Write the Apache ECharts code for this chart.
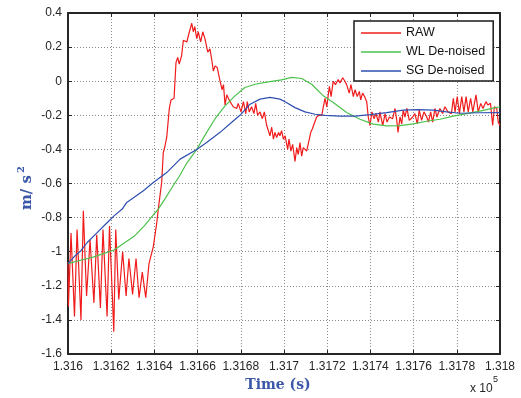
<!DOCTYPE html>
<html>
<head>
<meta charset="utf-8">
<style>
  html, body { margin: 0; padding: 0; background: #fff; }
  #chart { width: 521px; height: 398px; }
</style>
<script src="https://cdn.jsdelivr.net/npm/echarts@6/dist/echarts.min.js"></script>
</head>
<body>
<div id="chart"></div>
<script>
// Time axis: seconds, labelled in units of 1e5 s
const T0 = 131600;
const T_END = 131800;
const T_STEP = 20;
const Y_MIN = -1.6;
const Y_MAX = 0.4;
const Y_STEP = 0.2;

const seriesNames = ['RAW', 'WL De-noised', 'SG De-noised'];

// [seconds after T0, acceleration m/s^2]
const rawSignal = [
  [0,-1.06],[0.2,-1.32],[1.4,-0.89],[3.0,-1.38],[4.2,-0.87],[6.0,-1.40],[7.1,-0.76],[8.6,-1.26],
  [10.2,-0.93],[12.0,-1.30],[13.3,-0.90],[15.0,-1.33],[16.2,-0.87],[18.1,-1.38],[19.2,-0.85],
  [21.2,-1.47],[22.1,-0.87],[23.5,-1.28],[25.3,-1.00],[26.9,-1.26],[28.2,-1.04],[29.9,-1.25],
  [31.5,-1.04],[32.9,-1.27],[34.4,-1.12],[36.0,-1.27],[37.5,-1.07],[39.5,-0.97],[41.1,-0.83],
  [41.8,-0.75],[42.6,-0.67],[43.4,-0.59],[44.1,-0.42],[44.9,-0.38],[45.7,-0.33],[46.9,-0.16],
  [47.7,-0.11],[49.1,-0.10],[50.0,0.11],[50.8,0.14],[51.5,0.10],[52.6,0.15],[53.4,0.24],
  [54.2,0.25],[55.0,0.23],[56.2,0.29],[57.3,0.34],[58.0,0.29],[58.7,0.32],[59.6,0.25],
  [60.3,0.29],[61.4,0.23],[62.4,0.29],[63.4,0.25],[64.7,0.17],[65.7,0.19],[66.5,0.13],
  [67.3,0.06],[68.1,0.09],[69.1,0.08],[70.4,0.00],[71.3,-0.05],[72.0,-0.02],[72.7,-0.14],
  [73.5,-0.08],[75.0,-0.12],[76.5,-0.15],[78.1,-0.16],[78.8,-0.13],[80.1,-0.18],[81.2,-0.12],
  [82.3,-0.19],[83.0,-0.12],[83.9,-0.18],[85.0,-0.15],[86.1,-0.19],[86.9,-0.13],[87.8,-0.20],
  [88.9,-0.18],[90.0,-0.22],[90.9,-0.18],[92.0,-0.26],[92.8,-0.25],[93.5,-0.32],[94.3,-0.27],
  [95.1,-0.34],[95.8,-0.30],[96.6,-0.33],[97.5,-0.30],[98.1,-0.32],[98.9,-0.29],[99.7,-0.34],
  [100.5,-0.32],[101.7,-0.40],[102.3,-0.34],[103.2,-0.41],[104.0,-0.37],[105.1,-0.47],
  [105.9,-0.39],[106.6,-0.43],[107.4,-0.36],[108.2,-0.44],[108.9,-0.39],[109.7,-0.40],
  [110.5,-0.41],[111.3,-0.40],[112.4,-0.30],[113.1,-0.28],[114.0,-0.29],[115.1,-0.21],
  [116.2,-0.20],[117.5,-0.20],[118.2,-0.15],[119.0,-0.10],[119.8,-0.15],[121.0,-0.03],
  [121.8,-0.09],[122.8,0.00],[123.8,-0.02],[125.1,0.01],[125.9,-0.01],[127.2,0.02],
  [128.2,0.00],[129.0,-0.02],[130.2,-0.07],[131.0,-0.02],[132.1,-0.09],[132.9,-0.05],
  [133.9,-0.09],[134.9,-0.06],[135.5,-0.11],[136.4,-0.07],[137.3,-0.09],[138.3,-0.12],
  [139.0,-0.21],[139.8,-0.26],[140.7,-0.18],[141.7,-0.22],[142.6,-0.19],[143.7,-0.24],
  [144.4,-0.18],[145.7,-0.26],[146.8,-0.19],[147.7,-0.24],[148.8,-0.21],[150.3,-0.22],
  [151.4,-0.16],[152.2,-0.23],[152.8,-0.30],[153.7,-0.21],[154.5,-0.25],[155.2,-0.17],
  [156.0,-0.21],[156.9,-0.16],[158.0,-0.23],[159.6,-0.21],[160.6,-0.19],[161.7,-0.25],
  [162.6,-0.17],[163.7,-0.23],[164.8,-0.18],[166.1,-0.21],[166.9,-0.24],[167.9,-0.18],
  [168.8,-0.24],[169.9,-0.16],[170.8,-0.21],[172.2,-0.16],[173.4,-0.19],[174.5,-0.15],
  [175.9,-0.18],[177.5,-0.19],[178.4,-0.10],[179.2,-0.18],[180.2,-0.09],[181.2,-0.19],
  [182.3,-0.09],[183.3,-0.18],[184.3,-0.09],[185.3,-0.18],[186.4,-0.10],[187.4,-0.18],
  [188.9,-0.08],[189.9,-0.18],[191.1,-0.13],[192.1,-0.16],[193.5,-0.12],[194.4,-0.14],
  [195.6,-0.13],[196.6,-0.26],[197.4,-0.15],[198.5,-0.16],[199.2,-0.24],[200.0,-0.26]
];

const wlDenoised = [
  [0,-1.07],[5.9,-1.05],[12.0,-1.03],[16.7,-1.01],[21.3,-0.99],[25.9,-0.95],[30.6,-0.91],
  [35.2,-0.85],[39.8,-0.78],[41.8,-0.75],[44.9,-0.69],[48.8,-0.61],[51.9,-0.55],[55.0,-0.48],
  [59.6,-0.40],[64.2,-0.30],[68.1,-0.22],[72.7,-0.145],[77.3,-0.086],[81.9,-0.037],
  [86.6,-0.018],[92.7,-0.004],[98.9,0.008],[103.6,0.022],[108.2,0.016],[112.8,-0.018],
  [118.2,-0.086],[122.8,-0.125],[129.0,-0.184],[135.2,-0.223],[141.3,-0.252],[147.5,-0.262],
  [153.7,-0.26],[159.9,-0.25],[166.1,-0.235],[172.2,-0.223],[178.4,-0.205],[184.6,-0.19],
  [190.7,-0.176],[196.9,-0.158],[200.0,-0.15]
];

const sgDenoised = [
  [0,-1.07],[2.8,-1.03],[5.9,-0.995],[8.9,-0.946],[13.6,-0.887],[18.2,-0.829],[21.3,-0.79],
  [25.1,-0.75],[27.2,-0.711],[34.9,-0.643],[39.5,-0.594],[45.7,-0.536],[51.9,-0.457],
  [59.6,-0.40],[64.2,-0.36],[70.4,-0.30],[75.0,-0.25],[79.6,-0.20],[84.3,-0.135],
  [88.9,-0.105],[93.5,-0.095],[98.1,-0.105],[100.5,-0.121],[105.1,-0.155],[109.7,-0.18],
  [114.4,-0.194],[119.0,-0.20],[125.9,-0.205],[132.9,-0.205],[139.8,-0.196],[147.5,-0.184],
  [155.2,-0.17],[162.0,-0.167],[169.1,-0.17],[175.3,-0.18],[181.5,-0.188],[190.7,-0.185],
  [200.0,-0.184]
];

const lineColors = ['#f01c1c', '#4cc24c', '#2f4fb0'];

const toSeconds = pts => pts.map(p => [T0 + p[0], p[1]]);

const axisColor = '#262626';
const labelFont = { fontFamily: 'Liberation Sans, Arial, sans-serif', fontSize: 12, color: axisColor };
const gridLine = { show: true, lineStyle: { color: '#8a8a8a', width: 1, type: [1, 2] } };

const fmtX = v => (v / 1e5).toFixed(4).replace(/0+$/, '').replace(/\.$/, '');
const fmtY = v => String(+v.toFixed(1));

const chart = echarts.init(document.getElementById('chart'), null, { renderer: 'canvas' });

const xBase = { type: 'value', min: T0, max: T_END, interval: T_STEP };
const yBase = { type: 'value', min: Y_MIN, max: Y_MAX, interval: Y_STEP };

chart.setOption({
  animation: false,
  backgroundColor: '#ffffff',
  grid: { left: 68, right: 21, top: 13, bottom: 44, containLabel: false },
  xAxis: [
    Object.assign({}, xBase, {
      position: 'bottom',
      axisLine: { onZero: false, lineStyle: { color: axisColor, width: 2 } },
      axisTick: { inside: true, length: 4, lineStyle: { color: axisColor } },
      axisLabel: Object.assign({ margin: 7, formatter: fmtX }, labelFont),
      splitLine: gridLine
    }),
    Object.assign({}, xBase, {
      position: 'top',
      axisLine: { onZero: false, lineStyle: { color: axisColor, width: 2 } },
      axisTick: { inside: true, length: 4, lineStyle: { color: axisColor } },
      axisLabel: { show: false },
      splitLine: { show: false }
    })
  ],
  yAxis: [
    Object.assign({}, yBase, {
      position: 'left',
      axisLine: { onZero: false, lineStyle: { color: axisColor, width: 2 } },
      axisTick: { inside: true, length: 4, lineStyle: { color: axisColor } },
      axisLabel: Object.assign({ margin: 6, formatter: fmtY }, labelFont),
      splitLine: gridLine
    }),
    Object.assign({}, yBase, {
      position: 'right',
      axisLine: { onZero: false, lineStyle: { color: axisColor, width: 2 } },
      axisTick: { inside: true, length: 4, lineStyle: { color: axisColor } },
      axisLabel: { show: false },
      splitLine: { show: false }
    })
  ],
  legend: {
    data: seriesNames.map(n => ({ name: n, icon: 'rect' })),
    orient: 'vertical',
    left: 354,
    top: 21,
    padding: [5, 8, 3, 7],
    itemGap: 5,
    itemWidth: 40,
    itemHeight: 1.5,
    backgroundColor: '#ffffff',
    borderColor: '#1a1a1a',
    borderWidth: 1.5,
    textStyle: { fontFamily: 'Liberation Sans, Arial, sans-serif', fontSize: 12.5, lineHeight: 14, color: '#111' }
  },
  series: [
    { name: seriesNames[0], data: toSeconds(rawSignal) },
    { name: seriesNames[1], data: toSeconds(wlDenoised) },
    { name: seriesNames[2], data: toSeconds(sgDenoised) }
  ].map((s, i) => Object.assign(s, {
    type: 'line',
    xAxisIndex: 0,
    yAxisIndex: 0,
    symbol: 'none',
    showSymbol: false,
    smooth: false,
    color: lineColors[i],
    itemStyle: { color: lineColors[i] },
    lineStyle: { color: lineColors[i], width: 1.2 }
  })),
  graphic: [
    {
      type: 'group', x: 27, y: 190, rotation: Math.PI / 2,
      children: [
        { type: 'text', x: 15, y: 0, style: { text: 'm/ s', textAlign: 'right', textVerticalAlign: 'middle',
          fontFamily: 'DejaVu Serif, serif', fontWeight: 'bold', fontSize: 15, fill: '#3a57a8' } },
        { type: 'text', x: 17, y: -6, style: { text: '2', textAlign: 'left', textVerticalAlign: 'middle',
          fontFamily: 'DejaVu Serif, serif', fontWeight: 'bold', fontSize: 10, fill: '#3a57a8' } }
      ]
    },
    { type: 'text', x: 278, y: 385, style: { text: 'Time (s)', textAlign: 'center', textVerticalAlign: 'middle',
      fontFamily: 'DejaVu Serif, serif', fontWeight: 'bold', fontSize: 14, fill: '#3a57a8' } },
    { type: 'text', x: 470, y: 389, style: { text: 'x 10', textAlign: 'left', textVerticalAlign: 'middle',
      fontFamily: 'Liberation Sans, Arial, sans-serif', fontSize: 12, fill: axisColor } },
    { type: 'text', x: 493, y: 380, style: { text: '5', textAlign: 'left', textVerticalAlign: 'middle',
      fontFamily: 'Liberation Sans, Arial, sans-serif', fontSize: 9, fill: axisColor } }
  ]
});
</script>
</body>
</html>
